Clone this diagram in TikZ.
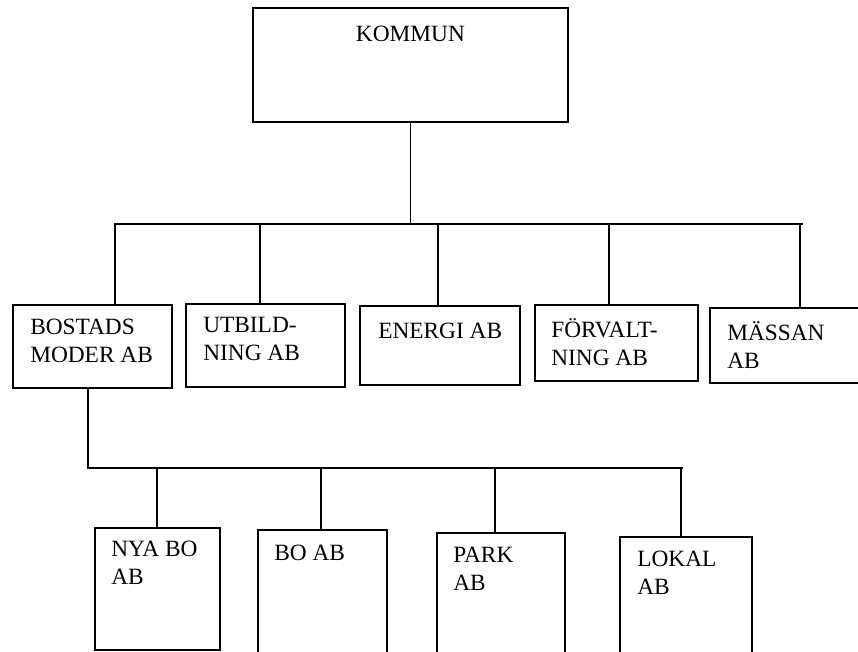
\documentclass[tikz,border=0pt]{standalone}
\usepackage{fontspec}
\setmainfont{Liberation Serif}
\tikzset{
  unit/.style 2 args={draw, line width=1.3pt, inner sep=0pt, anchor=north west,
    minimum width=#1*0.025cm, minimum height=#2*0.025cm},
  lbl/.style={inner sep=0pt, anchor=north west, align=left,
    font=\fontsize{16.6}{20}\selectfont, execute at begin node=\strut},
  link/.style={line width=1.3pt}
}
\begin{document}
\begin{tikzpicture}[x=0.025cm,y=-0.025cm]
        \path[use as bounding box, clip] (0,0) rectangle (858,652);
        % top level
        \node (kommun) [unit={315}{114}] at (252,7) {};
        \node (kommun text) [lbl,anchor=north]
          at ([shift={(0,14.5)}]kommun.north) {KOMMUN};
        % companies
        \node (bostads) [unit={159}{83}] at (12,304) {};
        \node (utbild) [unit={159}{83}] at (185,303) {};
        \node (energi) [unit={160}{79}] at (359,305) {};
        \node (forvalt) [unit={163}{76}] at (534,304) {};
        \node (massan) [unit={160}{75}] at (709,307) {};
        \node (bostads text) [lbl] at ([shift={(18,14.5)}]bostads.north west) {BOSTADS\\MODER AB};
        \node (utbild text) [lbl] at ([shift={(18,13.5)}]utbild.north west) {UTBILD-\\NING AB};
        \node (energi text) [lbl] at ([shift={(19,13.5)}]energi.north west) {ENERGI AB};
        \node (forvalt text) [lbl] at ([shift={(17,14.5)}]forvalt.north west) {FÖRVALT-\\NING AB};
        \node (massan text) [lbl] at ([shift={(18,14.5)}]massan.north west) {MÄSSAN\\AB};
        % daughter companies
        \node (nyabo) [unit={125}{122}] at (94,527) {};
        \node (boab) [unit={129}{135}] at (257,529) {};
        \node (park) [unit={128}{132}] at (436,532) {};
        \node (lokal) [unit={132}{128}] at (619,536) {};
        \node (nyabo text) [lbl] at ([shift={(17,13.5)}]nyabo.north west) {NYA BO\\AB};
        \node (boab text) [lbl] at ([shift={(17,11.5)}]boab.north west) {BO AB};
        \node (park text) [lbl] at ([shift={(17,14.5)}]park.north west) {PARK\\AB};
        \node (lokal text) [lbl] at ([shift={(18,14.5)}]lokal.north west) {LOKAL\\AB};
        % upper bus
        \coordinate (bus left) at (114,224);
        \coordinate (bus right) at (803,224);
        \coordinate (t1) at (115,224);
        \coordinate (t2) at (260,224);
        \coordinate (t3) at (438,224);
        \coordinate (t4) at (609,224);
        \coordinate (t5) at (800,224);
        \draw [link] (bus left) -- (bus right);
        \draw [link] (kommun.south) -- (kommun.south |- bus left);
        \draw [link] (t1) -- (t1 |- bostads.north);
        \draw [link] (t2) -- (t2 |- utbild.north);
        \draw [link] (t3) -- (t3 |- energi.north);
        \draw [link] (t4) -- (t4 |- forvalt.north);
        \draw [link] (t5) -- (t5 |- massan.north);
        % lower bus
        \coordinate (low left) at (88,468);
        \coordinate (low right) at (683,468);
        \coordinate (l1) at (157,468);
        \coordinate (l2) at (321,468);
        \coordinate (l3) at (495,468);
        \coordinate (l4) at (681,468);
        \draw [link]
          (low left |- bostads.south)
          -- (low left)
          -- (low right)
        ;
        \draw [link] (l1) -- (l1 |- nyabo.north);
        \draw [link] (l2) -- (l2 |- boab.north);
        \draw [link] (l3) -- (l3 |- park.north);
        \draw [link] (l4) -- (l4 |- lokal.north);
      \end{tikzpicture}
\end{document}
